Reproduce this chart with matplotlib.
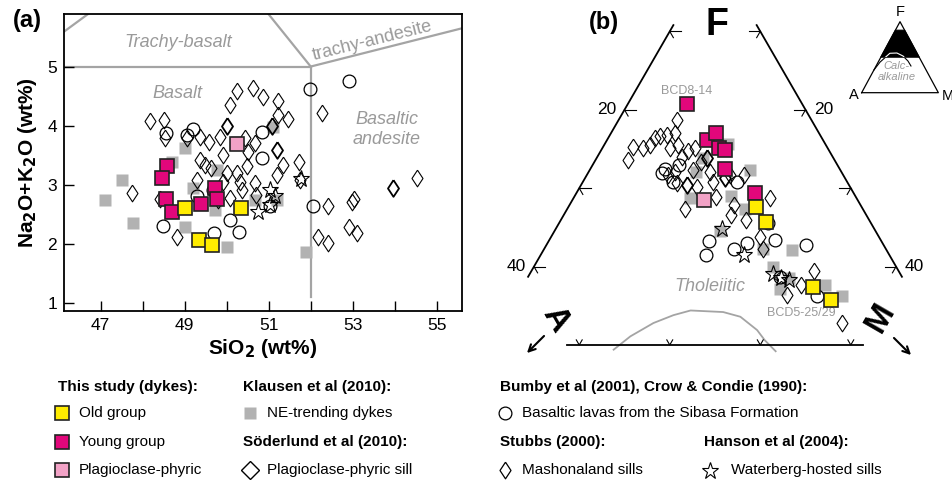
import numpy as np
import matplotlib
matplotlib.use("Agg")
import matplotlib.pyplot as plt
from matplotlib.patches import Polygon

plt.rcParams['font.family'] = ['Liberation Sans', 'DejaVu Sans']

# ---------------- (a) TAS diagram: SiO2 vs Na2O+K2O (wt%) ----------------
old_sio2 = [49.01, 50.33, 49.35, 49.64]
old_alk = [2.60, 2.60, 2.07, 1.98]
young_sio2 = [48.57, 48.47, 48.56, 48.71, 49.40, 49.73, 49.76]
young_alk = [3.32, 3.12, 2.75, 2.53, 2.67, 2.95, 2.76]
plag_sio2 = [50.25]
plag_alk = [3.69]
ne_sio2 = [47.11, 47.50, 47.78, 49.01, 48.69, 49.21, 49.77, 49.01, 49.73, 50.00,
           51.89, 51.11, 50.24, 50.68, 51.19]
ne_alk = [2.74, 3.08, 2.35, 3.62, 3.39, 2.94, 3.25, 2.29, 2.57, 1.95,
          1.86, 3.98, 3.73, 2.74, 2.74]
sill_sio2 = [50.00, 51.08, 51.19, 53.95]
sill_alk = [4.00, 4.00, 3.59, 2.94]
mash_sio2 = [48.17, 48.51, 48.53, 47.74, 48.41, 48.83, 49.05, 49.37, 49.57, 49.84,
             50.08, 50.25, 50.63, 50.87, 51.23, 51.23, 51.46, 50.44, 50.68, 50.51,
             49.37, 49.49, 49.62, 49.92, 50.00, 50.24, 50.48, 51.33, 51.19, 51.71,
             49.29, 50.32, 50.36, 50.68, 50.08, 50.70, 49.80, 49.92, 52.26, 52.40,
             52.18, 52.42, 52.90, 53.11, 52.98, 53.03, 54.52, 51.75]
mash_alk = [4.07, 4.10, 3.79, 2.85, 2.75, 2.12, 3.79, 3.81, 3.73, 3.81,
            4.35, 4.58, 4.63, 4.49, 4.41, 4.18, 4.12, 3.79, 3.70, 3.56,
            3.42, 3.33, 3.28, 3.50, 3.19, 3.19, 3.31, 3.33, 3.16, 3.39,
            3.08, 3.05, 2.91, 3.02, 2.77, 2.82, 2.74, 3.05, 4.21, 2.63,
            2.12, 2.01, 2.29, 2.18, 2.71, 2.75, 3.11, 3.08]
sibasa_sio2 = [48.55, 49.05, 49.19, 49.29, 48.49, 49.70, 50.08, 50.29, 50.83, 50.83,
               51.98, 52.90, 52.06, 51.03, 49.68]
sibasa_alk = [3.87, 3.84, 3.95, 2.80, 2.30, 2.18, 2.40, 2.19, 3.45, 3.90,
              4.62, 4.76, 2.64, 2.63, 2.91]
water_sio2 = [51.77, 51.02, 50.75, 51.03, 51.15]
water_alk = [3.10, 2.91, 2.53, 2.66, 2.80]

# TAS field boundaries (SiO2, alkalis)
tas_lines = {
    'basalt_top': ([45, 52], [5, 5]),
    'basalt_right': ([52, 52], [5, 1.1]),
    'trachybasalt_right': ([52, 49.4], [5, 7.3]),
    'trachyandesite_low': ([52, 57], [5, 5.9]),
    'tephrite': ([45, 49.4], [5, 7.3]),
}

# ---------------- (b) AFM diagram: F and M in %, A = 100 - F - M ----------------
old_F = [67.6, 65.7, 57.4, 55.8]
old_M = [20.7, 22.8, 32.1, 34.9]
young_F = [80.7, 76.2, 77.1, 75.1, 74.9, 72.5, 69.4]
young_M = [6.5, 11.0, 11.6, 12.9, 13.7, 14.8, 19.7]
plag_F = [68.5]
plag_M = [14.5]
ne_F = [75.6, 72.3, 68.7, 72.1, 69.0, 67.4, 64.6, 62.2, 62.1, 60.0, 58.5, 57.7, 56.2, 57.2, 73.8]
ne_M = [13.6, 17.7, 12.9, 11.9, 17.3, 19.6, 18.3, 24.2, 27.4, 26.4, 28.9, 33.3, 35.9, 28.6, 11.8]
sill_F = [70.4, 73.8, 71.3]
sill_M = [11.7, 12.2, 15.5]
mash_F = [73.6, 75.3, 75.1, 75.5, 76.4, 76.6, 76.8, 78.7, 77.0, 75.5,
          75.1, 74.7, 75.1, 71.7, 72.1, 70.6, 73.4, 72.1, 70.8, 68.9,
          71.7, 67.4, 68.8, 66.6, 65.9, 63.8, 62.3, 59.4, 57.7, 56.4,
          52.8, 71.7, 67.9, 70.2, 72.3, 74.0]
mash_M = [3.6, 3.3, 4.5, 5.1, 5.2, 5.6, 6.3, 6.4, 7.1, 8.2,
          7.5, 9.7, 10.2, 9.0, 9.5, 10.5, 11.8, 13.4, 14.4, 15.7,
          15.8, 13.0, 21.7, 18.5, 20.5, 23.1, 24.2, 31.2, 30.6, 29.7,
          37.6, 17.3, 18.1, 12.9, 11.4, 9.3]
sibasa_F = [72.5, 71.9, 70.8, 73.0, 70.8, 63.2, 61.5, 62.3, 63.0, 63.4, 62.8, 65.6, 56.2, 58.7]
sibasa_M = [8.2, 8.2, 10.0, 9.5, 17.0, 17.7, 18.2, 20.9, 22.0, 24.9, 28.6, 23.1, 33.2, 27.8]
water_F = [64.8, 61.5, 59.0, 58.3, 58.6]
water_M = [18.4, 22.4, 26.9, 29.0, 28.0]

# Tholeiitic / calc-alkaline boundary
bound_F = [49.4, 51.1, 52.8, 53.8, 54.4, 54.2, 53.6, 51.9, 50.6, 49.2]
bound_M = [14.1, 15.1, 16.8, 18.5, 20.1, 23.8, 26.0, 28.7, 30.2, 32.1]
side_F = [90.8, 58.7]          # visible part of the A-F and F-M edges
base_M = [8.6, 41.4]           # visible part of the F = 50 line
tick_vals = [10, 20, 30, 40]

# overview triangle (fractions)
band_F = [0.50, 0.88]
inset_F = [0.32, 0.43, 0.555, 0.559, 0.517, 0.446, 0.376]
inset_M = [0.0, 0.024, 0.09, 0.18, 0.28, 0.381, 0.455]

YELLOW = '#FFEC00'
MAGENTA = '#E2077B'
PINK = '#F2A2C6'
GREY_SQ = '#B2B2B2'
GREY_LN = '#A4A4A4'
GREY_TX = '#9A9A9A'

SQ3 = np.sqrt(3) / 2
# open diamond a little wider than matplotlib's thin diamond
DIAMOND = [(0, 1), (0.66, 0), (0, -1), (-0.66, 0), (0, 1)]


def tern_xy(F, M):
    F = np.asarray(F, float)
    M = np.asarray(M, float)
    return M + F / 2, F * SQ3


def draw_points(ax, xy_fn, data):
    (gx, gy), (sx, sy), (mx, my), (cx, cy), (wx, wy), (ox, oy), (yx, yy), (px, py) = data
    ax.plot(*xy_fn(gx, gy), 's', ms=9, mfc=GREY_SQ, mec='none', zorder=2)
    ax.plot(*xy_fn(mx, my), marker=DIAMOND, ls='none', ms=12, mfc='none', mec='black',
            mew=0.8, zorder=3)
    ax.plot(*xy_fn(sx, sy), marker=DIAMOND, ls='none', ms=12, mfc='none', mec='black',
            mew=1.3, zorder=3)
    ax.plot(*xy_fn(cx, cy), 'o', ms=9.2, mfc='none', mec='black', mew=0.9, zorder=3)
    ax.plot(*xy_fn(wx, wy), '*', ms=12.5, mfc='none', mec='black', mew=0.8, zorder=3)
    ax.plot(*xy_fn(yx, yy), 's', ms=9.4, mfc=MAGENTA, mec='#222222', mew=1.2, zorder=4)
    ax.plot(*xy_fn(px, py), 's', ms=9.4, mfc=PINK, mec='#222222', mew=1.2, zorder=4)
    ax.plot(*xy_fn(ox, oy), 's', ms=9.4, mfc=YELLOW, mec='#222222', mew=1.2, zorder=4)


fig = plt.figure(figsize=(9.52, 4.86), dpi=100)

# ---------------- panel (a) ----------------
ax = fig.add_axes([64 / 952, 1 - 311 / 486, 398 / 952, 297 / 486])
ax.set_xlim(46.13, 55.6)
ax.set_ylim(0.86, 5.89)
for xs, ys in tas_lines.values():
    ax.plot(xs, ys, color=GREY_LN, lw=1.6, zorder=1)

draw_points(ax, lambda a, b: (a, b), [
    (ne_sio2, ne_alk), (sill_sio2, sill_alk), (mash_sio2, mash_alk),
    (sibasa_sio2, sibasa_alk), (water_sio2, water_alk),
    (old_sio2, old_alk), (young_sio2, young_alk), (plag_sio2, plag_alk)])

ax.text(48.84, 5.40, 'Trachy-basalt', color=GREY_TX, style='italic', fontsize=13,
        ha='center', va='center')
ax.text(53.46, 5.44, 'trachy-andesite', color=GREY_TX, fontsize=13, rotation=14,
        rotation_mode='anchor', ha='center', va='center')
ax.text(48.84, 4.55, 'Basalt', color=GREY_TX, style='italic', fontsize=13,
        ha='center', va='center')
ax.text(53.81, 3.93, 'Basaltic\nandesite', color=GREY_TX, style='italic', fontsize=13,
        ha='center', va='center', linespacing=1.2)

ax.set_xticks([47, 49, 51, 53, 55])
ax.set_xticks([48, 50, 52, 54], minor=True)
ax.set_yticks([1, 2, 3, 4, 5])
ax.tick_params(which='both', direction='in', length=7, width=1, labelsize=12.5)
ax.tick_params(axis='x', pad=5)
ax.tick_params(axis='y', pad=5)
for sp in ax.spines.values():
    sp.set_linewidth(1.3)
ax.set_xlabel('SiO$_\\mathbf{2}$ (wt%)', fontsize=15, fontweight='bold', labelpad=3)
ax.set_ylabel('Na$_\\mathbf{2}$O+K$_\\mathbf{2}$O (wt%)', fontsize=15, fontweight='bold',
              labelpad=6)
fig.text(27 / 952, 1 - 21 / 486, '(a)', fontsize=17, fontweight='bold',
         ha='center', va='center')

# ---------------- panel (b) ----------------
bx = fig.add_axes([485 / 952, 1 - 362 / 486, 467 / 952, 362 / 486])
bx.set_xlim(24.59, 76.18)
bx.set_ylim(41.42, 81.41)
bx.axis('off')

# frame: edges of the upper half of the AFM triangle
side_F = np.array(side_F)
bx.plot(*tern_xy(side_F, [0, 0]), color='black', lw=1.3)
bx.plot(*tern_xy(side_F, 100 - side_F), color='black', lw=1.3)
bx.plot(*tern_xy([50, 50], base_M), color='black', lw=1.3)

c60, s60 = 0.5, SQ3
for v in tick_vals:
    # A-F edge: tick at A = v
    x0, y0 = tern_xy(100 - v, 0)
    bx.plot([x0, x0 + 1.25], [y0, y0], color='black', lw=0.8)
    bx.plot([x0, x0 + 0.8 * c60], [y0, y0 - 0.8 * s60], color='black', lw=0.8)
    # F-M edge: tick at M = v
    x1, y1 = tern_xy(100 - v, v)
    bx.plot([x1, x1 - 1.25], [y1, y1], color='black', lw=0.8)
    bx.plot([x1, x1 - 0.8 * c60], [y1, y1 - 0.8 * s60], color='black', lw=0.8)
    # F = 50 line: tick at M = v
    x2, y2 = tern_xy(50, v)
    bx.plot([x2 - 0.65 * c60, x2, x2 + 0.65 * c60],
            [y2 + 0.65 * s60, y2, y2 + 0.65 * s60], color='black', lw=0.8)
    if v in (20, 40):
        bx.annotate(str(v), (x0, y0), xytext=(-6, 0), textcoords='offset points',
                    ha='right', va='center', fontsize=12.5)
        bx.annotate(str(v), (x1, y1), xytext=(6, 0), textcoords='offset points',
                    ha='left', va='center', fontsize=12.5)

bx.plot(*tern_xy(bound_F, bound_M), color=GREY_LN, lw=1.3, zorder=1)

draw_points(bx, tern_xy, [
    (ne_F, ne_M), (sill_F, sill_M), (mash_F, mash_M), (sibasa_F, sibasa_M),
    (water_F, water_M), (old_F, old_M), (young_F, young_M), (plag_F, plag_M)])

bx.annotate('BCD8-14', tern_xy(young_F[0], young_M[0]), xytext=(0, 9.5),
            textcoords='offset points', ha='center', va='center', fontsize=9,
            color=GREY_TX)
bx.annotate('BCD5-25/29', tern_xy(old_F[3], old_M[3]), xytext=(-21.5, -9.7),
            textcoords='offset points', ha='center', va='center', fontsize=9,
            color=GREY_TX)
bx.text(*tern_xy(57.4, 20.7), 'Tholeiitic', color=GREY_TX, style='italic',
        fontsize=13, ha='center', va='center')

# corner labels
fig.text(717 / 952, 1 - 25 / 486, 'F', fontsize=27, fontweight='bold',
         ha='center', va='center')
fig.text(556 / 952, 1 - 319 / 486, 'A', fontsize=24, fontweight='bold',
         ha='center', va='center', rotation=-60)
fig.text(880 / 952, 1 - 318 / 486, 'M', fontsize=24, fontweight='bold',
         ha='center', va='center', rotation=60)
fig.add_artist(matplotlib.patches.FancyArrowPatch(
    (546 / 952, 1 - 334 / 486), (525 / 952, 1 - 355 / 486), transform=fig.transFigure,
    arrowstyle='->', mutation_scale=12, lw=1.5, color='black'))
fig.add_artist(matplotlib.patches.FancyArrowPatch(
    (892 / 952, 1 - 336 / 486), (913 / 952, 1 - 357 / 486), transform=fig.transFigure,
    arrowstyle='->', mutation_scale=12, lw=1.5, color='black'))
fig.text(604 / 952, 1 - 22 / 486, '(b)', fontsize=17, fontweight='bold',
         ha='center', va='center')

# overview triangle with the enlarged area shaded
ins = fig.add_axes([855 / 952, 1 - 100 / 486, 95 / 952, 95 / 486])
ins.set_xlim(-0.087, 1.152)
ins.set_ylim(-0.103, 1.235)
ins.axis('off')
ins.plot([0, 1, 0.5, 0], [0, 0, 1, 0], color='black', lw=0.9)
f0, f1 = band_F
band = Polygon([(f0 / 2, f0), (f1 / 2, f1), (1 - f1 / 2, f1), (1 - f0 / 2, f0)],
               closed=True, facecolor='black', edgecolor='black', lw=0.8)
ins.add_patch(band)
ix = np.array(inset_M) + np.array(inset_F) / 2
ins.plot(ix, inset_F, color='black', lw=0.8)
hi, = ins.plot(ix, inset_F, color='white', lw=0.8)
hi.set_clip_path(band)
ins.text(0.5, 1.04, 'F', fontsize=10.5, ha='center', va='bottom')
ins.text(-0.04, -0.03, 'A', fontsize=10.5, ha='right', va='center')
ins.text(1.04, -0.04, 'M', fontsize=10.5, ha='left', va='center')
ins.text(0.46, 0.30, 'Calc-\nalkaline', fontsize=8, style='italic', color=GREY_TX,
         ha='center', va='center', linespacing=1.05)

# ---------------- key ----------------
lg = fig.add_axes([0, 0, 1, 116 / 486])
lg.set_xlim(0, 952)
lg.set_ylim(486, 370)
lg.axis('off')
rows = [387, 413, 441.5, 470]
head = dict(fontsize=11, fontweight='bold', ha='left', va='center')
item = dict(fontsize=11, ha='left', va='center')
lg.text(58, rows[0], 'This study (dykes):', **head)
lg.text(243, rows[0], 'Klausen et al (2010):', **head)
lg.text(243, rows[2], 'Söderlund et al (2010):', **head)
lg.text(500, rows[0], 'Bumby et al (2001), Crow & Condie (1990):', **head)
lg.text(500, rows[2], 'Stubbs (2000):', **head)
lg.text(704, rows[2], 'Hanson et al (2004):', **head)

lg.plot(62, rows[1], 's', ms=9.4, mfc=YELLOW, mec='#222222', mew=1.2)
lg.plot(62, rows[2], 's', ms=9.4, mfc=MAGENTA, mec='#222222', mew=1.2)
lg.plot(62, rows[3], 's', ms=9.4, mfc=PINK, mec='#222222', mew=1.2)
lg.plot(250, rows[1], 's', ms=9, mfc=GREY_SQ, mec='none')
lg.plot(250, rows[3], 'D', ms=9.5, mfc='none', mec='black', mew=1.0)
lg.plot(505, rows[1], 'o', ms=9.2, mfc='none', mec='black', mew=0.9)
lg.plot(505, rows[3], marker=DIAMOND, ms=12, mfc='none', mec='black', mew=0.9)
lg.plot(710, rows[3] + 1, '*', ms=12.5, mfc='none', mec='black', mew=0.8)

lg.text(79, rows[1], 'Old group', **item)
lg.text(79, rows[2], 'Young group', **item)
lg.text(79, rows[3], 'Plagioclase-phyric', **item)
lg.text(267, rows[1], 'NE-trending dykes', **item)
lg.text(267, rows[3], 'Plagioclase-phyric sill', **item)
lg.text(522, rows[1], 'Basaltic lavas from the Sibasa Formation', **item)
lg.text(522, rows[3], 'Mashonaland sills', **item)
lg.text(731, rows[3], 'Waterberg-hosted sills', **item)

fig.savefig('out.png', dpi=100)
